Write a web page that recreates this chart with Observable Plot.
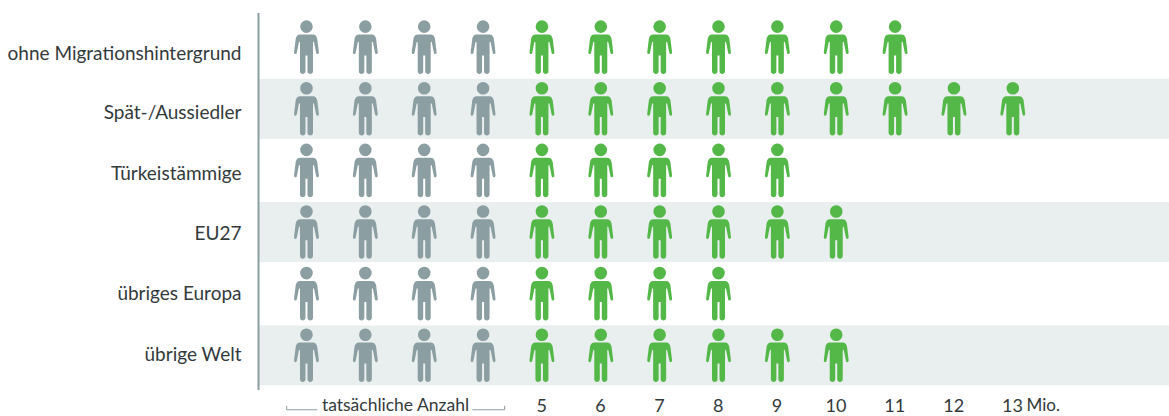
<!DOCTYPE html>
<html><head><meta charset="utf-8">
<style>html,body{margin:0;padding:0;background:#fff}svg{display:block}</style>
<script src="https://cdn.jsdelivr.net/npm/d3@7"></script>
<script src="https://cdn.jsdelivr.net/npm/@observablehq/plot@0.6"></script>
</head><body><div id="c"></div>
<script>
const categories = ["ohne Migrationshintergrund","Spät-/Aussiedler","Türkeistämmige","EU27","übriges Europa","übrige Welt"];
const totals = [11,13,9,10,8,10];
const actualCount = 4;
const bandCategories = ["Spät-/Aussiedler","EU27","übrige Welt"];
const tickValues = [5,6,7,8,9,10,11,12,13];
const xDomain = [0.19,15.65];
const bracketSpans = [[0.652,1.17],[3.806,4.354]];
const bracketEnds = [0.652,4.354];

const GREY="#8b9ea2", GREEN="#53b848", BAND="#e9eeee", INK="#333a3c";
const FONT="Lato, 'Open Sans', sans-serif";
const labelNudge = [6,4,3,1,0,-1];

const people = categories.flatMap((c,i)=>d3.range(1,totals[i]+1).map(n=>({category:c,n,kind:n<=actualCount?"actual":"extra"})));

const person = {draw(p){
  p.moveTo(6.3,-20.8); p.arc(0,-20.8,6.3,0,2*Math.PI);
  p.moveTo(-5.5,-12.9);
  p.lineTo(5.5,-12.9);
  p.bezierCurveTo(9,-12.9,10,-11.5,10.8,-8.5);
  p.lineTo(12.4,4.6);
  p.bezierCurveTo(12.7,7.2,9.9,7.4,9.6,5);
  p.lineTo(7.6,-5);
  p.bezierCurveTo(7.4,-6,6.5,-6,6.5,-5);
  p.lineTo(6.5,23.8);
  p.bezierCurveTo(6.5,27.4,1,27.4,1,23.8);
  p.lineTo(1,8); p.lineTo(-1,8); p.lineTo(-1,23.8);
  p.bezierCurveTo(-1,27.4,-6.5,27.4,-6.5,23.8);
  p.lineTo(-6.5,-5);
  p.bezierCurveTo(-6.5,-6,-7.4,-6,-7.6,-5);
  p.lineTo(-9.6,5);
  p.bezierCurveTo(-9.9,7.4,-12.7,7.2,-12.4,4.6);
  p.lineTo(-10.8,-8.5);
  p.bezierCurveTo(-10,-11.5,-9,-12.9,-5.5,-12.9);
  p.closePath();
}};
const capTick = {draw(p){p.moveTo(0,0);p.lineTo(0,-4);}};

const last = categories[categories.length-1];
const plot = Plot.plot({
  width:1169,height:416,marginTop:13,marginBottom:26,marginLeft:259,marginRight:0,
  style:{fontFamily:FONT,fontSize:"19px",color:INK,background:"#fff"},
  x:{domain:xDomain,range:[259,1169]},
  y:{domain:categories,range:[16.4,386.1],padding:0,round:false,axis:null},
  marks:[
    Plot.barX(bandCategories,{x1:xDomain[0],x2:xDomain[1],y:d=>d,fill:BAND,insetTop:0.8,insetBottom:0.8}),
    Plot.ruleX([xDomain[0]],{stroke:GREY,strokeWidth:2,dx:-1}),
    Plot.dot(people,{x:"n",y:"category",symbol:()=>person,r:5,dx:-0.7,dy:-0.3,fill:d=>d.kind==="actual"?GREY:GREEN,stroke:"none"}),
    ...categories.map((c,i)=>Plot.text([c],{text:d=>d,x:()=>xDomain[0],y:d=>d,dx:-18,dy:labelNudge[i],textAnchor:"end",fontSize:19,fill:INK})),
    Plot.axisX({anchor:"bottom",ticks:tickValues,tickSize:0,tickPadding:9,tickFormat:d=>String(d),label:null,fontSize:18,fill:INK,dx:-1}),
    Plot.text(["Mio."],{text:d=>d,x:()=>13,y:()=>last,dy:50,dx:13,textAnchor:"start",fontSize:17,fill:INK}),
    Plot.text(["tatsächliche Anzahl"],{text:d=>d,x:()=>2.5,y:()=>last,dy:50,fontSize:17.5,fill:INK}),
    Plot.link(bracketSpans,{x1:d=>d[0],x2:d=>d[1],y1:()=>last,y2:()=>last,dy:54,stroke:GREY,strokeWidth:1}),
    Plot.dot(bracketEnds,{x:d=>d,y:()=>last,dy:54,symbol:()=>capTick,r:3,stroke:GREY,strokeWidth:1,fill:"none"})
  ]
});
document.getElementById("c").append(plot);
</script></body></html>
